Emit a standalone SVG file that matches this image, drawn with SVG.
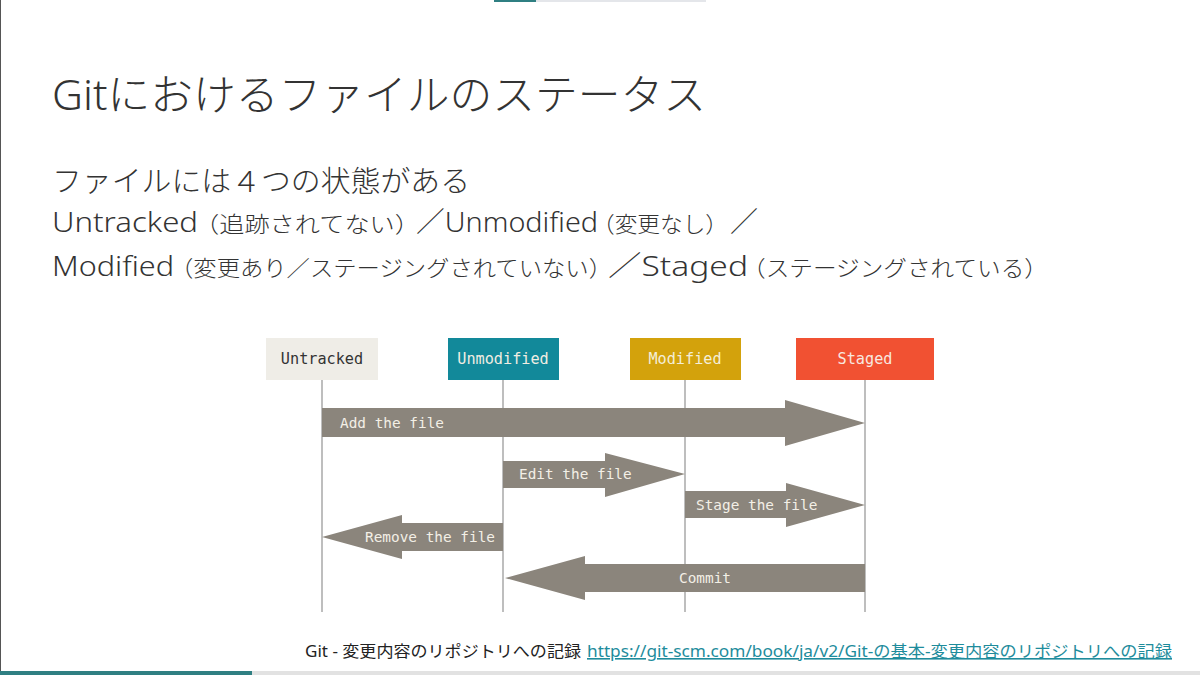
<svg xmlns="http://www.w3.org/2000/svg" width="1200" height="675" viewBox="0 0 1200 675">
<style>
.jp{font-family:"Noto Sans","Noto Sans CJK JP",sans-serif;fill:#333;font-weight:300}
.big{font-size:28px}
.sm{font-size:22px}
.mono{font-family:"DejaVu Sans Mono","Liberation Mono",monospace;font-size:14.4px}
.box{font-size:15.2px}
.lbl{fill:#f3efe6}
.life{stroke:#a8a8a8;stroke-width:1.5}
.arr{fill:#8b857c}
</style>
<rect width="1200" height="675" fill="#ffffff"/>
<line x1="0.5" y1="0" x2="0.5" y2="675" stroke="#555" stroke-width="1"/>
<rect x="494" y="0" width="42" height="2" fill="#2f7f82"/>
<rect x="536" y="0" width="170" height="2" fill="#e4e6ea"/>
<rect x="0" y="671" width="252" height="4" fill="#2f7f82"/>
<rect x="252" y="671" width="948" height="4" fill="#e2e2e2"/>

<text class="jp" x="52" y="110" font-size="42" textLength="654" lengthAdjust="spacingAndGlyphs">Gitにおけるファイルのステータス</text>
<text class="jp" x="52" y="192" font-size="29" textLength="418" lengthAdjust="spacingAndGlyphs">ファイルには４つの状態がある</text>

<text class="jp big" x="52" y="232" textLength="146" lengthAdjust="spacingAndGlyphs">Untracked</text>
<text class="jp sm" x="194" y="232" textLength="226" lengthAdjust="spacingAndGlyphs">（追跡されてない）</text>
<text class="jp big" x="416" y="232" textLength="182" lengthAdjust="spacingAndGlyphs">／Unmodified</text>
<text class="jp sm" x="592" y="232" textLength="136" lengthAdjust="spacingAndGlyphs">（変更なし）</text>
<text class="jp big" x="730" y="232">／</text>

<text class="jp big" x="52" y="276" textLength="122" lengthAdjust="spacingAndGlyphs">Modified</text>
<text class="jp sm" x="170" y="276" textLength="442" lengthAdjust="spacingAndGlyphs">（変更あり／ステージングされていない）</text>
<text class="jp big" x="608" y="276" textLength="140" lengthAdjust="spacingAndGlyphs">／Staged</text>
<text class="jp sm" x="742" y="276" textLength="306" lengthAdjust="spacingAndGlyphs">（ステージングされている）</text>

<g id="connectors">
<line class="life" x1="322" y1="380" x2="322" y2="612"/>
<line class="life" x1="503" y1="380" x2="503" y2="612"/>
<line class="life" x1="685" y1="380" x2="685" y2="612"/>
<line class="life" x1="865" y1="380" x2="865" y2="612"/>
<g id="add">
<polygon class="arr" points="322,408 785,408 785,400 865,423 785,446 785,437 322,437"/>
<text class="mono lbl" x="340" y="428">Add the file</text>
</g>
<g id="edit">
<polygon class="arr" points="503,461 605,461 605,453 685,474 605,497 605,488 503,488"/>
<text class="mono lbl" x="519" y="479">Edit the file</text>
</g>
<g id="stage">
<polygon class="arr" points="685,491 786,491 786,483 865,505 786,527 786,518 685,518"/>
<text class="mono lbl" x="696" y="510">Stage the file</text>
</g>
<g id="remove">
<polygon class="arr" points="503,523 402,523 402,515 322,537 402,559 402,551 503,551"/>
<text class="mono lbl" x="365" y="542">Remove the file</text>
</g>
<g id="commit">
<polygon class="arr" points="865,564 585,564 585,556 505,578 585,600 585,592 865,592"/>
<text class="mono lbl" x="679" y="583">Commit</text>
</g>
</g>

<g id="untracked">
<rect x="266" y="338" width="112" height="42" fill="#efede7"/>
<text class="mono box" x="322" y="364" text-anchor="middle" fill="#333">Untracked</text>
</g>
<g id="unmodified">
<rect x="448" y="338" width="111" height="42" fill="#12899a"/>
<text class="mono box" x="503" y="364" text-anchor="middle" fill="#f1ede2">Unmodified</text>
</g>
<g id="modified">
<rect x="630" y="338" width="111" height="42" fill="#d3a20c"/>
<text class="mono box" x="685" y="364" text-anchor="middle" fill="#f4eed8">Modified</text>
</g>
<g id="staged">
<rect x="796" y="338" width="138" height="42" fill="#f15132"/>
<text class="mono box" x="865" y="364" text-anchor="middle" fill="#f8e8e0">Staged</text>
</g>

<text class="jp" x="305" y="657" font-size="16" style="fill:#222;font-weight:400" textLength="276" lengthAdjust="spacingAndGlyphs">Git - 変更内容のリポジトリへの記録</text>
<text x="587" y="657" font-size="16" font-family="'Noto Sans','Noto Sans CJK JP',sans-serif" fill="#1e8c9c" text-decoration="underline" textLength="585" lengthAdjust="spacingAndGlyphs">https://git-scm.com/book/ja/v2/Git-の基本-変更内容のリポジトリへの記録</text>
</svg>
